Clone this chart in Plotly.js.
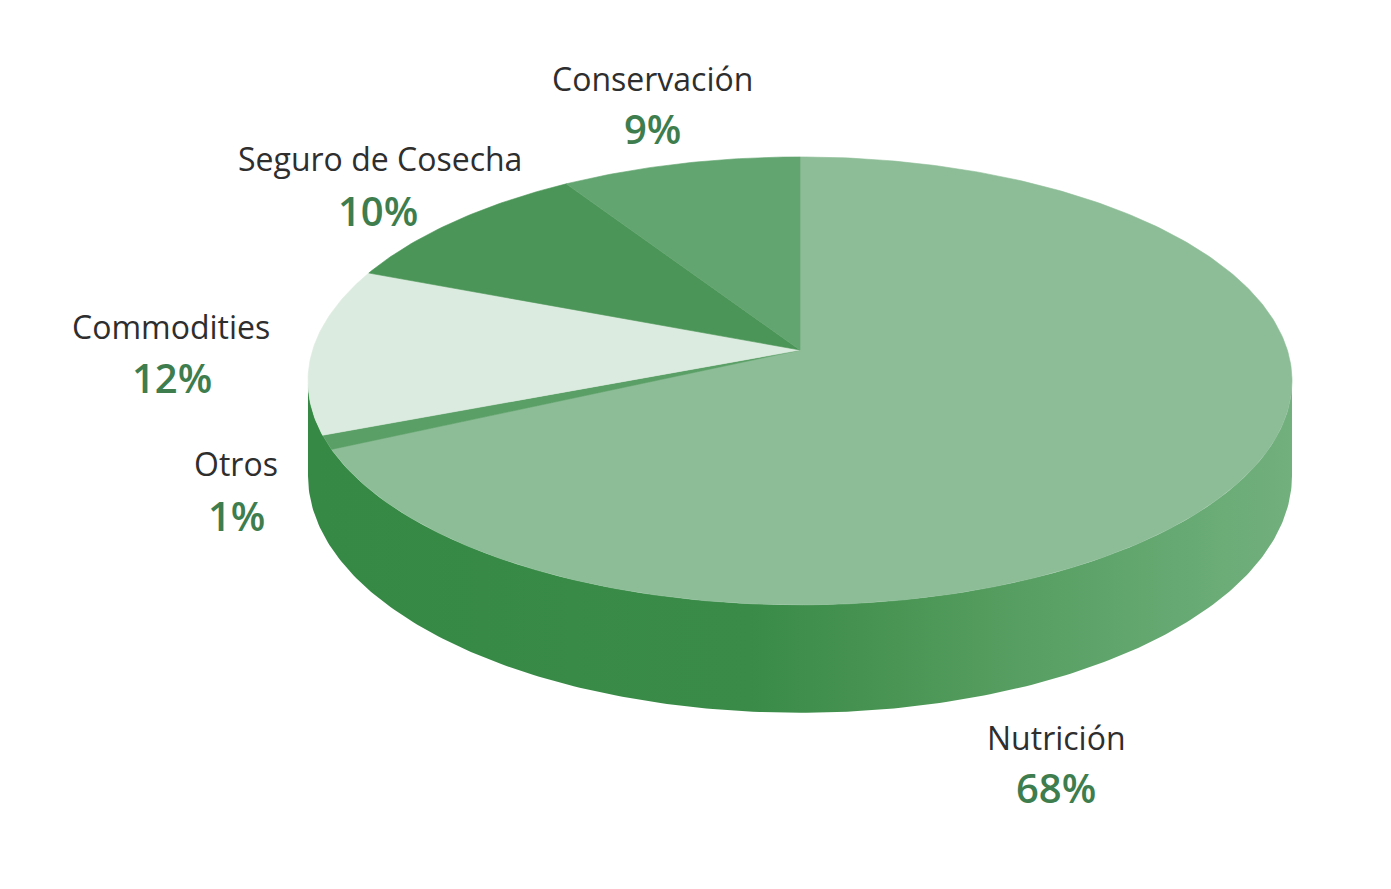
<!DOCTYPE html>
<html>
<head>
<meta charset="utf-8">
<script src="https://cdn.plot.ly/plotly-3.0.1.min.js"></script>
<style>html,body{margin:0;padding:0;background:#fff;}#chart{width:1391px;height:889px;}</style>
</head>
<body>
<div id="chart"></div>
<script>
// ---- data ----
const categories = ['Nutrición', 'Otros', 'Commodities', 'Seguro de Cosecha', 'Conservación'];
const values = [68, 1, 12, 10, 9];
const pctLabels = ['68%', '1%', '12%', '10%', '9%'];

// ---- styles ----
const topColors = ['#8dbd97', '#5a9f66', '#dcebdf', '#4b9558', '#63a570'];
const sideScale = [[0, '#358944'], [0.45, '#3a8b48'], [0.6, '#4a9554'], [0.8, '#5ea46a'], [1, '#72b07e']];
const nameFont = {family: 'Open Sans, sans-serif', size: 32, color: '#2e2e2e'};
const pctFont = {family: 'Open Sans, sans-serif', size: 40, color: '#3e7d4d', weight: 600};

// ---- 3D pie projection (pixel-like axes) ----
const CX = 800, CY = 350;   // apex of the pie
const A = 487.3;            // horizontal radius scale
const AS = 219.7;           // vertical radius scale
const K = 0.138;            // perspective factor
const B = 93;               // side depth scale
function proj(t) {
  const d = 1 + K * Math.cos(t);
  return [CX + A * Math.sin(t) / d, CY - AS * Math.cos(t) / d];
}
function depth(t) { return B / (1 + K * Math.cos(t)); }

// label anchor positions (pixel coords)
const namePos = [[1056, 737], [236, 463], [171, 326], [380, 158], [652, 78]];
const pctPos  = [[1056, 787], [236, 515], [172, 377], [378, 210], [652, 128]];

const traces = [];
const N = 240;

// side band (front visible half)
const tR = Math.acos(-K), tL = 2 * Math.PI - Math.acos(-K);
{
  const xs = [], ys = [];
  for (let i = 0; i <= N; i++) {
    const t = tR + (tL - tR) * i / N;
    const p = proj(t);
    xs.push(p[0]); ys.push(p[1]);
  }
  for (let i = N; i >= 0; i--) {
    const t = tR + (tL - tR) * i / N;
    const p = proj(t);
    xs.push(p[0]); ys.push(p[1] + depth(t));
  }
  xs.push(xs[0]); ys.push(ys[0]);
  traces.push({
    type: 'scatter', mode: 'lines', x: xs, y: ys, fill: 'toself',
    line: {width: 0, color: 'rgba(0,0,0,0)'},
    fillgradient: {type: 'horizontal', colorscale: sideScale},
    hoverinfo: 'skip'
  });
}

// top face slices
const total = values.reduce((a, b) => a + b, 0);
let cum = 0;
values.forEach((v, i) => {
  const a0 = 2 * Math.PI * cum / total;
  const a1 = 2 * Math.PI * (cum + v) / total;
  cum += v;
  const xs = [CX], ys = [CY];
  const n = Math.max(4, Math.ceil(N * v / total * 2));
  for (let j = 0; j <= n; j++) {
    const p = proj(a0 + (a1 - a0) * j / n);
    xs.push(p[0]); ys.push(p[1]);
  }
  xs.push(CX); ys.push(CY);
  traces.push({
    type: 'scatter', mode: 'lines', x: xs, y: ys, fill: 'toself',
    fillcolor: topColors[i], line: {width: 0.6, color: topColors[i]},
    name: categories[i], hoverinfo: 'name'
  });
});

const annotations = [];
categories.forEach((c, i) => {
  annotations.push({x: namePos[i][0], y: namePos[i][1], xref: 'x', yref: 'y', text: c,
    showarrow: false, xanchor: 'center', yanchor: 'middle', font: nameFont});
  annotations.push({x: pctPos[i][0], y: pctPos[i][1], xref: 'x', yref: 'y', text: pctLabels[i],
    showarrow: false, xanchor: 'center', yanchor: 'middle', font: pctFont});
});

const layout = {
  width: 1391, height: 889,
  margin: {l: 0, r: 0, t: 0, b: 0},
  paper_bgcolor: '#ffffff', plot_bgcolor: '#ffffff',
  showlegend: false,
  xaxis: {range: [0, 1391], visible: false, fixedrange: true},
  yaxis: {range: [889, 0], visible: false, fixedrange: true},
  annotations: annotations
};
Plotly.newPlot('chart', traces, layout, {displayModeBar: false, staticPlot: true});
</script>
</body>
</html>
